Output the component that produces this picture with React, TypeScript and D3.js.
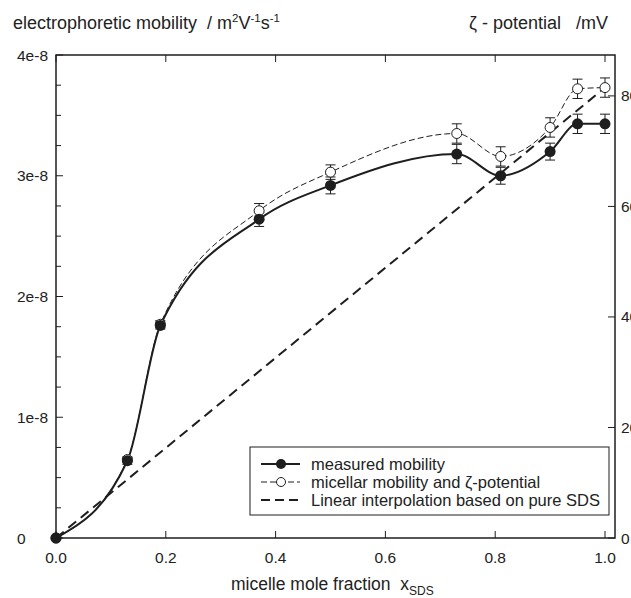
import React from "react";
import * as d3 from "d3";

const xValues = [0, 0.13, 0.19, 0.37, 0.5, 0.73, 0.81, 0.9, 0.95, 1.0];
const measured = [0, 0.64e-8, 1.76e-8, 2.64e-8, 2.92e-8, 3.18e-8, 3.0e-8, 3.2e-8, 3.43e-8, 3.43e-8];
const measuredErr = [0, 0.03e-8, 0.03e-8, 0.06e-8, 0.07e-8, 0.08e-8, 0.07e-8, 0.07e-8, 0.08e-8, 0.08e-8];
const micellar = [0, 0.65e-8, 1.77e-8, 2.71e-8, 3.03e-8, 3.35e-8, 3.16e-8, 3.4e-8, 3.72e-8, 3.73e-8];
const micellarErr = [0, 0.02e-8, 0.03e-8, 0.06e-8, 0.06e-8, 0.08e-8, 0.08e-8, 0.08e-8, 0.08e-8, 0.08e-8];
const linearX = [0, 1.0];
const linearY = [0, 3.73e-8];

const xTicks = [0, 0.2, 0.4, 0.6, 0.8, 1.0];
const xTickLabels = ["0.0", "0.2", "0.4", "0.6", "0.8", "1.0"];
const yTicks = [0, 1e-8, 2e-8, 3e-8, 4e-8];
const yTickLabels = ["0", "1e-8", "2e-8", "3e-8", "4e-8"];
const zetaTicks = [0, 20, 40, 60, 80];
const zetaTickLabels = ["0", "20", "40", "60", "80"];
const legendLabels = ["measured mobility", "micellar mobility and ζ-potential", "Linear interpolation based on pure SDS"];

const W = 631, H = 598;
const L = 56, R = 615, T = 55, B = 538;
const FONT = "'Liberation Sans', Arial, sans-serif";
const INK = "#1e1e1e";
const TXT = "#222";

export default function App() {
  const x = d3.scaleLinear().domain([0, 1.0]).range([L, 605]);
  const y = d3.scaleLinear().domain([0, 4e-8]).range([B, T]);
  const yz = d3.scaleLinear().domain([0, 87.4]).range([B, T]);

  const mkLine = (vals: number[]) =>
    d3.line<number>().x((_, i) => x(xValues[i])).y((d) => y(d)).curve(d3.curveMonotoneX)(vals) || "";
  const measLine = mkLine(measured);
  const micLine = mkLine(micellar);
  const linLine = d3.line<number>().x((_, i) => x(linearX[i])).y((d) => y(d))(linearY) || "";

  const minorY = d3.range(0, 4e-8 + 1e-12, 0.25e-8);

  const errBars = (vals: number[], errs: number[], key: string) =>
    vals.map((v, i) =>
      errs[i] > 0 ? (
        <g key={key + i} stroke={INK} strokeWidth={1}>
          <line x1={x(xValues[i])} x2={x(xValues[i])} y1={y(v - errs[i])} y2={y(v + errs[i])} />
          <line x1={x(xValues[i]) - 5} x2={x(xValues[i]) + 5} y1={y(v - errs[i])} y2={y(v - errs[i])} />
          <line x1={x(xValues[i]) - 5} x2={x(xValues[i]) + 5} y1={y(v + errs[i])} y2={y(v + errs[i])} />
        </g>
      ) : null
    );

  const legX = 250, legY = 447, legW = 359, legH = 68;
  const rowY = [464, 482, 500];

  return (
    <svg width={W} height={H} style={{ position: "absolute", left: 0, top: 0, background: "#fff" }} fontFamily={FONT}>
      <rect x={0} y={0} width={W} height={H} fill="#fff" />
      {/* titles */}
      <text x={13} y={29} fontSize={18} fill={TXT} style={{ whiteSpace: "pre" }}>
        {"electrophoretic mobility  / m"}
        <tspan dy={-7} fontSize={11.5}>2</tspan>
        <tspan dy={7}>V</tspan>
        <tspan dy={-7} fontSize={11.5}>-1</tspan>
        <tspan dy={7}>s</tspan>
        <tspan dy={-7} fontSize={11.5}>-1</tspan>
      </text>
      <text x={608} y={29} fontSize={18} fill={TXT} textAnchor="end" style={{ whiteSpace: "pre" }}>
        {"ζ - potential   /mV"}
      </text>

      {/* linear interpolation */}
      <path d={linLine} fill="none" stroke={INK} strokeWidth={2} strokeDasharray="10,6" />
      {/* micellar dashed thin */}
      <path d={micLine} fill="none" stroke={INK} strokeWidth={1} strokeDasharray="6,3" />
      {/* measured solid */}
      <path d={measLine} fill="none" stroke={INK} strokeWidth={2} />

      {errBars(micellar, micellarErr, "me")}
      {errBars(measured, measuredErr, "ms")}

      {micellar.map((v, i) => (
        <circle key={"mc" + i} cx={x(xValues[i])} cy={y(v)} r={5} fill="#fff" stroke={INK} strokeWidth={1} />
      ))}
      {measured.map((v, i) => (
        <circle key={"ms" + i} cx={x(xValues[i])} cy={y(v)} r={5.5} fill={INK} />
      ))}

      {/* frame */}
      <rect x={L} y={T} width={R - L} height={B - T} fill="none" stroke={INK} strokeWidth={1.5} />

      {/* left ticks */}
      {minorY.map((v, i) => (
        <line key={"ly" + i} x1={L} x2={L + (i % 4 === 0 ? 7 : 5)} y1={y(v)} y2={y(v)} stroke={INK} strokeWidth={1} />
      ))}
      {yTicks.map((v, i) => (
        <text key={"yl" + i} x={17} y={y(v) + 5.5} fontSize={15.5} fill={TXT}>{yTickLabels[i]}</text>
      ))}

      {/* right ticks */}
      {zetaTicks.map((v, i) => (
        <g key={"rz" + i}>
          <line x1={R - 7} x2={R} y1={yz(v)} y2={yz(v)} stroke={INK} strokeWidth={1} />
          <text x={621} y={yz(v) + 5.5} fontSize={15.5} fill={TXT}>{zetaTickLabels[i]}</text>
        </g>
      ))}

      {/* bottom and top ticks */}
      {xTicks.map((v, i) => (
        <g key={"xt" + i}>
          <line x1={x(v)} x2={x(v)} y1={B} y2={B - 7} stroke={INK} strokeWidth={1} />
          <line x1={x(v)} x2={x(v)} y1={T} y2={T + 7} stroke={INK} strokeWidth={1} />
          <text x={x(v)} y={563} fontSize={15.5} textAnchor="middle" fill={TXT}>{xTickLabels[i]}</text>
        </g>
      ))}

      <text x={231} y={590} fontSize={17.5} fill={TXT} style={{ whiteSpace: "pre" }}>
        {"micelle mole fraction  x"}
        <tspan dy={5} fontSize={12}>SDS</tspan>
      </text>

      {/* legend */}
      <rect x={legX} y={legY} width={legW} height={legH} fill="#fff" stroke={INK} strokeWidth={1} />
      <line x1={261} x2={300} y1={rowY[0]} y2={rowY[0]} stroke={INK} strokeWidth={2} />
      <circle cx={281} cy={rowY[0]} r={5} fill={INK} />
      <line x1={261} x2={300} y1={rowY[1]} y2={rowY[1]} stroke={INK} strokeWidth={1} strokeDasharray="6,3" />
      <circle cx={281} cy={rowY[1]} r={4.5} fill="#fff" stroke={INK} strokeWidth={1} />
      <line x1={261} x2={300} y1={rowY[2]} y2={rowY[2]} stroke={INK} strokeWidth={2} strokeDasharray="9,5" />
      {legendLabels.map((t, i) => (
        <text key={"lg" + i} x={311} y={rowY[i] + 6} fontSize={16.5} fill={TXT}>{t}</text>
      ))}
    </svg>
  );
}
